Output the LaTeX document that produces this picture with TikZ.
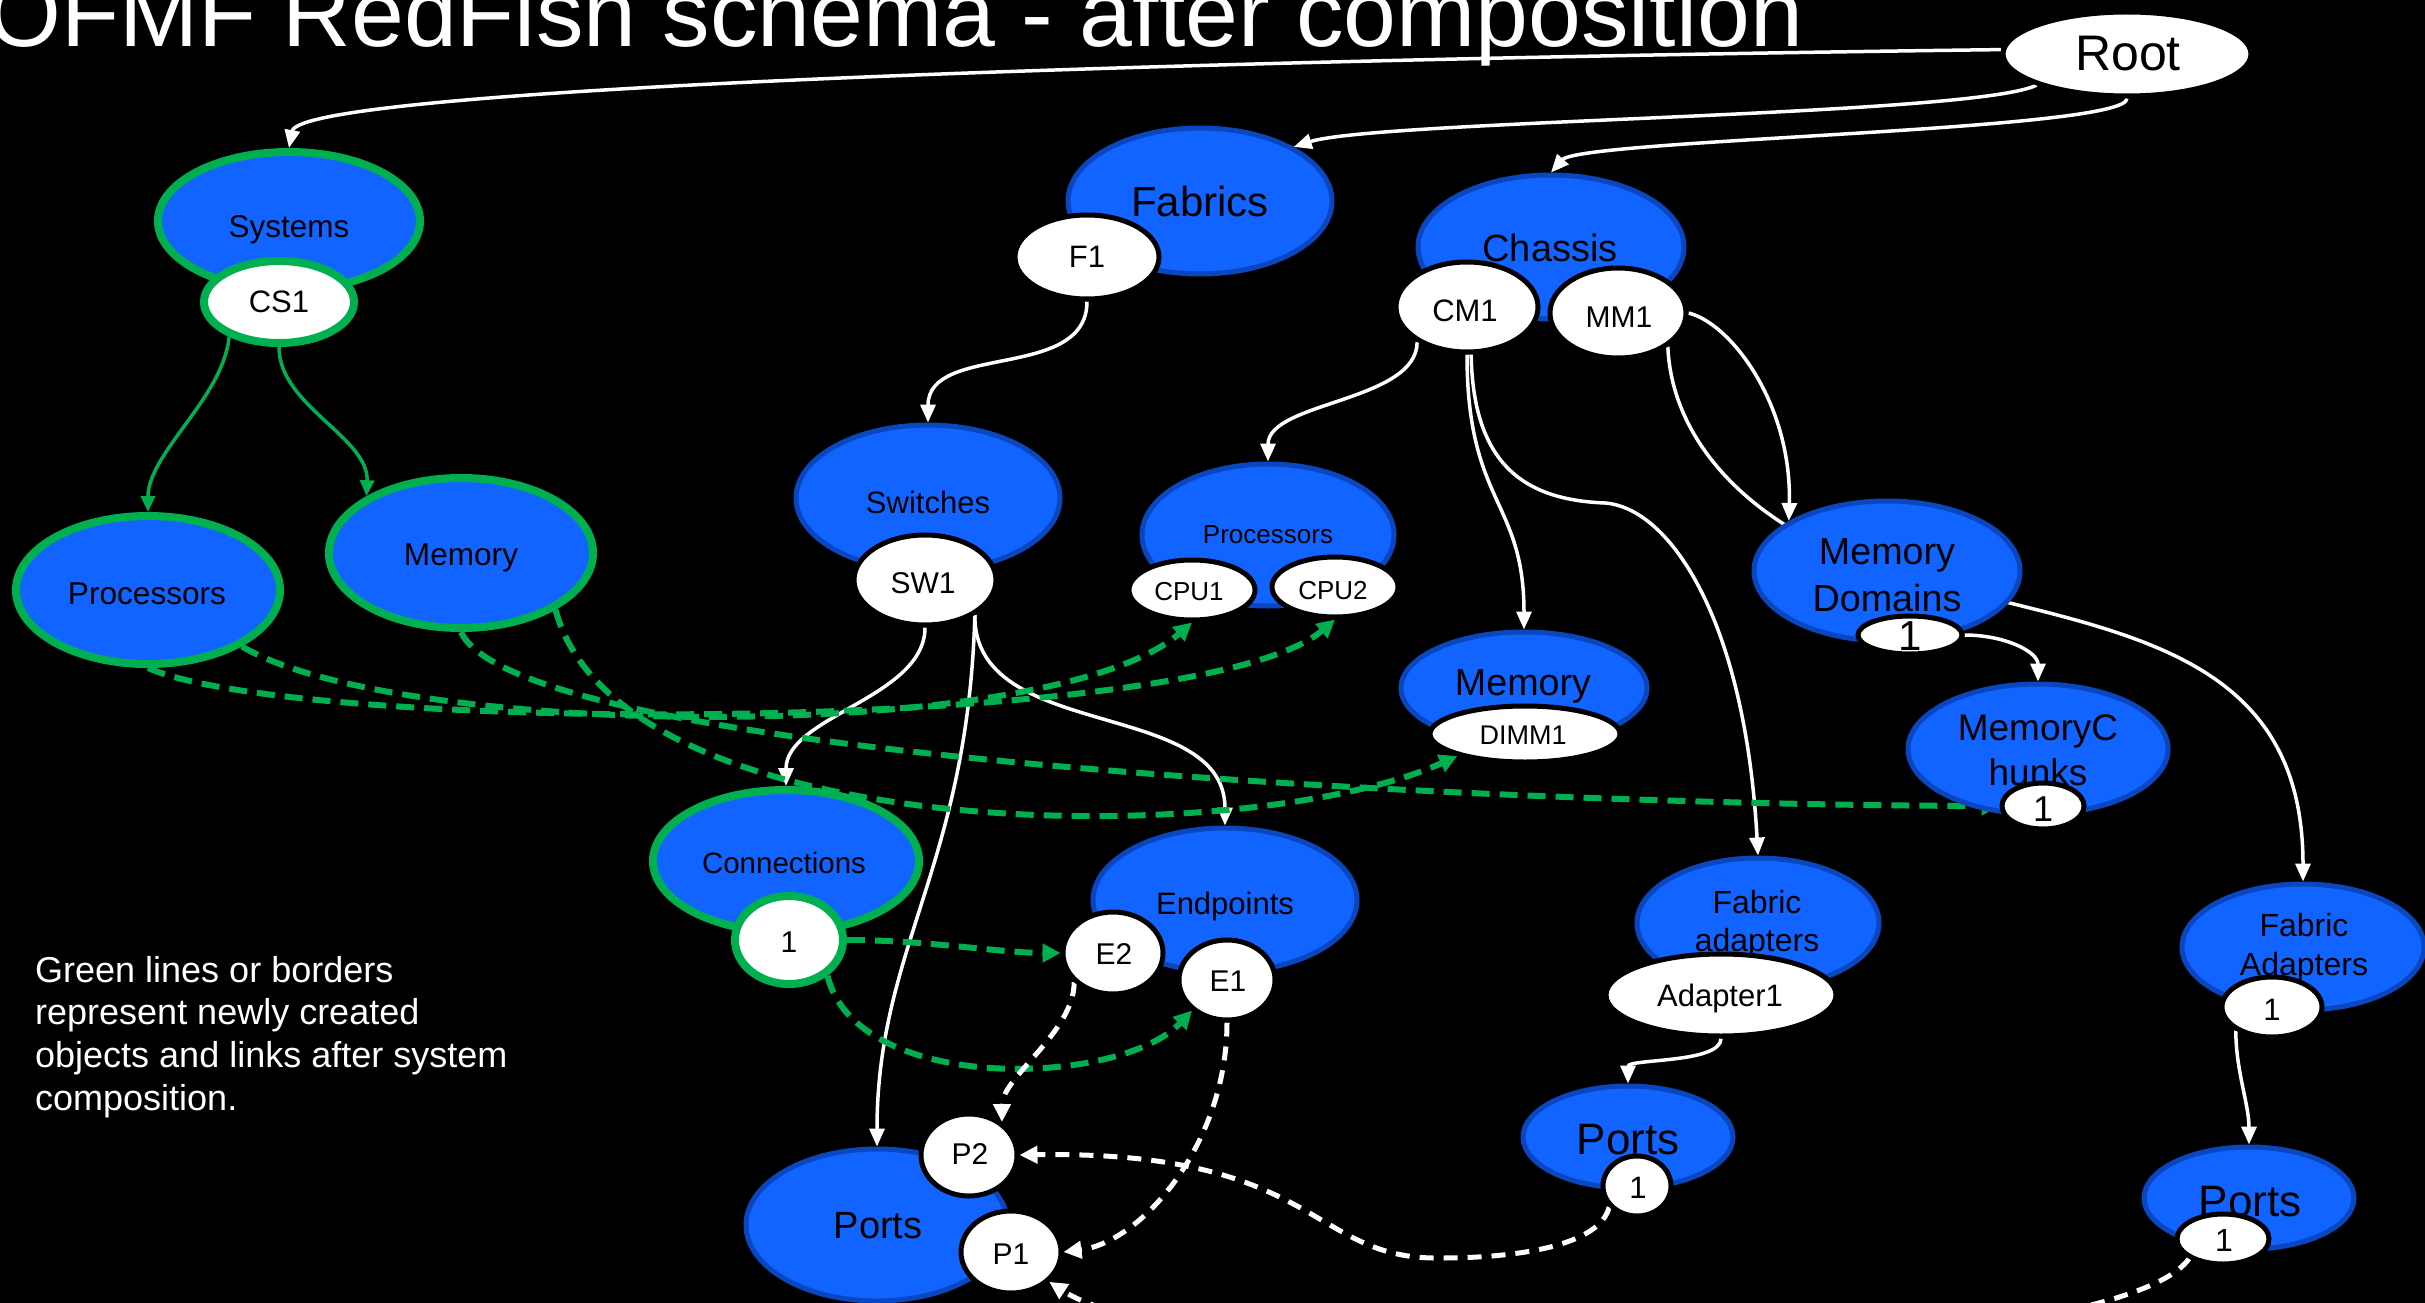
\documentclass[tikz,border=0pt]{standalone}
\usepackage{fontspec}
\setmainfont{Liberation Sans}
\usetikzlibrary{shapes.geometric, arrows.meta}
\definecolor{bfill}{RGB}{17,100,255}
\definecolor{bdr}{RGB}{10,70,190}
\definecolor{grn}{RGB}{0,176,80}
\pgfdeclarelayer{bg}
\pgfdeclarelayer{edges}
\pgfsetlayers{bg,edges,main}
\begin{document}
\begin{tikzpicture}[x=1pt, y=-1pt,
  bnode/.style={ellipse, draw=bdr, fill=bfill, line width=5pt, inner sep=0pt},
  gnode/.style={ellipse, draw=grn, fill=bfill, line width=8pt, inner sep=0pt},
  wnode/.style={ellipse, draw=black, fill=white, line width=5pt, inner sep=0pt},
  gwnode/.style={ellipse, draw=grn, fill=white, line width=8pt, inner sep=0pt},
  sz/.style 2 args={minimum width=#1pt, minimum height=#2pt},
  fs/.style={font={\fontsize{#1}{#1}\selectfont}},
  fstwo/.style 2 args={font={\fontsize{#1}{#2}\selectfont}},
  lbl/.style={text=black, inner sep=0pt},
  wline/.style={draw=white, line width=3.5pt, -{Triangle[length=18pt,width=15pt]}},
  wdash/.style={draw=white, line width=5pt, dash pattern=on 14pt off 10pt, -{Triangle[length=18pt,width=17pt]}},
  gline/.style={draw=grn, line width=3.5pt, -{Triangle[length=16pt,width=14pt]}},
  gdash/.style={draw=grn, line width=6pt, dash pattern=on 18pt off 10pt, -{Triangle[length=18pt,width=18pt]}}
]
\useasboundingbox (0,0) rectangle (2425,1303);
\begin{pgfonlayer}{bg}
\fill[black] (0,0) rectangle (2425,1303);
\end{pgfonlayer}

% ---------- title and legend ----------
\node[anchor=base west, text=white, inner sep=0pt, fs=95] (title) at (-13,47) {OFMF RedFish schema - after composition};
\node[anchor=north west, text=white, align=left, inner sep=0pt, fstwo={36}{42.7}] (legend) at (35,956)
  {Green lines or borders\\represent newly created\\objects and links after system\\composition.};

% ---------- collection nodes ----------
\node[wnode, sz={248}{84}] (root) at (2127,54) {};
\node[gnode, sz={262}{138}] (systems) at (289,221) {};
\node[bnode, sz={264}{146}] (fabrics) at (1200,201) {};
\node[bnode, sz={266}{144}] (chassis) at (1551,247) {};
\node[bnode, sz={264}{146}] (switches) at (928,498) {};
\node[gnode, sz={264}{148}] (procl) at (148,590) {};
\node[gnode, sz={264}{150}] (meml) at (461,553) {};
\node[bnode, sz={252}{142}] (procm) at (1268,535) {};
\node[bnode, sz={246}{112}] (memm) at (1524,688) {};
\node[bnode, sz={266}{140}] (md) at (1887,571) {};
\node[bnode, sz={260}{130}] (mc) at (2038,749) {};
\node[gnode, sz={266}{142}] (conn) at (786,861) {};
\node[bnode, sz={264}{144}] (ep) at (1225,900) {};
\node[bnode, sz={262}{152}] (portsl) at (877,1225) {};
\node[bnode, sz={242}{130}] (fam) at (1758,923) {};
\node[bnode, sz={210}{102}] (pm) at (1628,1137) {};
\node[bnode, sz={242}{126}] (far) at (2303,947) {};
\node[bnode, sz={210}{102}] (pr) at (2249,1198) {};

\node[lbl, fs=50] at (2128,54) {Root};
\node[lbl, fs=31.5] at (289,230) {Systems};
\node[lbl, fs=42] at (1200,201) {Fabrics};
\node[lbl, fs=38] at (1550,248) {Chassis};
\node[lbl, fs=31] at (928,502) {Switches};
\node[lbl, fs=31.6] at (147,594) {Processors};
\node[lbl, fs=31.6] at (461,558) {Memory};
\node[lbl, fs=26] at (1268,535) {Processors};
\node[lbl, fs=37.7] at (1523,686) {Memory};
\node[lbl, fstwo={37.7}{47}, align=center] at (1887,575) {Memory\\Domains};
\node[lbl, fstwo={37}{45}, align=center] at (2038,750) {MemoryC\\hunks};
\node[lbl, fs=29.5] at (784,863) {Connections};
\node[lbl, fs=31] at (1225,906) {Endpoints};
\node[lbl, fs=38] at (878,1226) {Ports};
\node[lbl, fstwo={32}{38}, align=center] at (1757,924) {Fabric\\adapters};
\node[lbl, fs=44] at (1628,1140) {Ports};
\node[lbl, fstwo={32}{39}, align=center] at (2304,948) {Fabric\\Adapters};
\node[lbl, fs=44] at (2250,1202) {Ports};

% ---------- member nodes ----------
\node[gwnode, sz={150}{82}] (cs1) at (279,302) {};
\node[wnode, sz={144}{84}] (f1) at (1087,257) {};
\node[wnode, sz={142}{90}] (cm1) at (1467,307) {};
\node[wnode, sz={136}{90}] (mm1) at (1618,313) {};
\node[wnode, sz={142}{90}] (sw1) at (925,580) {};
\node[wnode, sz={126}{60}] (cpu1) at (1192,590) {};
\node[wnode, sz={126}{60}] (cpu2) at (1335,587) {};
\node[wnode, sz={190}{56}] (dimm) at (1525,734) {};
\node[wnode, sz={104}{38}] (md1) at (1910,635) {};
\node[wnode, sz={82}{46}] (mc1) at (2043,806) {};
\node[gwnode, sz={108}{88}] (conn1) at (789,940) {};
\node[wnode, sz={100}{82}] (e2) at (1113,953) {};
\node[wnode, sz={96}{80}] (e1) at (1227,980) {};
\node[wnode, sz={96}{82}] (p2) at (969,1155) {};
\node[wnode, sz={100}{82}] (p1) at (1011,1252) {};
\node[wnode, sz={230}{82}] (a1) at (1721,995) {};
\node[wnode, sz={68}{60}] (pm1) at (1637,1186) {};
\node[wnode, sz={100}{60}] (far1) at (2272,1007) {};
\node[wnode, sz={92}{50}] (pr1) at (2223,1239) {};

\node[lbl, fs=31] at (279,302) {CS1};
\node[lbl, fs=31] at (1087,257) {F1};
\node[lbl, fs=31] at (1465,311) {CM1};
\node[lbl, fs=30] at (1619,317) {MM1};
\node[lbl, fs=30] at (923,583) {SW1};
\node[lbl, fs=26] at (1189,592) {CPU1};
\node[lbl, fs=26] at (1333,591) {CPU2};
\node[lbl, fs=27] at (1523,735) {DIMM1};
\node[lbl, fs=42] at (1910,636) {1};
\node[lbl, fs=36] at (2043,809) {1};
\node[lbl, fs=30] at (789,942) {1};
\node[lbl, fs=30] at (1114,954) {E2};
\node[lbl, fs=30] at (1228,981) {E1};
\node[lbl, fs=30] at (970,1154) {P2};
\node[lbl, fs=30] at (1011,1254) {P1};
\node[lbl, fs=31] at (1720,998) {Adapter1};
\node[lbl, fs=31] at (1638,1188) {1};
\node[lbl, fs=31] at (2272,1010) {1};
\node[lbl, fs=32] at (2224,1240) {1};

\coordinate (w3) at (1440,1258);
\coordinate (w7) at (1605,503);

% ---------- connectors ----------
\begin{pgfonlayer}{edges}
\draw[wline] (root.178) .. controls (1103,61) and (300,90) .. (systems.north);
\draw[wline] (root.199) .. controls (1975,116) and (1378,120) .. (fabrics.30);
\draw[wline] (root.south) .. controls (2127,131) and (1581,139) .. (chassis.north);
\draw[wline] (f1.south) .. controls +(0,80) and +(0,-80) .. (switches.north);
\draw[wline] (cm1.215) .. controls +(0,60) and +(0,-60) .. (procm.north);
\draw[wline] (cm1.south) .. controls +(0,150) and +(0,-130) .. (memm.north);
\draw[wline] (cm1.-85) .. controls (1473,470) and (1530,500) .. (w7)
             .. controls (1670,508) and (1745,620) .. (fam.north);
\draw[wline] (mm1.east) .. controls (1730,323) and (1792,403) .. (md.153);
\draw[wline] (mm1.-34) .. controls (1672,446) and (1757,531) .. (md.center)
             .. controls (2087,631) and (2303,633) .. (far.north);
\draw[wline] (md1.east) .. controls +(40,0) and +(0,-30) .. (mc.north);
\draw[wline] (sw1.south) .. controls +(0,70) and +(0,-70) .. (conn.north);
\draw[wline] (sw1.-35) .. controls (968,865) and (877,948) .. (portsl.north);
\draw[wline] (sw1.-35) .. controls (973,743) and (1225,697) .. (ep.north);
\draw[wline] (a1.south) .. controls +(0,25) and +(0,-25) .. (pm.north);
\draw[wline] (far1.213) .. controls +(0,40) and +(0,-40) .. (pr.north);

\draw[gline] (cs1.215) .. controls (223,398) and (148,453) .. (procl.north);
\draw[gline] (cs1.south) .. controls (279,406) and (369,437) .. (meml.149);

\draw[gdash] (procl.-31) .. controls (400,740) and (1050,745) .. (cpu1.south);
\draw[gdash] (procl.south) .. controls (300,735) and (1200,735) .. (cpu2.south);
\draw[gdash] (meml.south) .. controls (520,760) and (1500,805) .. (mc1.west);
\draw[gdash] (meml.-31) .. controls (620,850) and (1250,850) .. (dimm.198);
\draw[gdash] (conn1.east) .. controls +(80,0) and +(-60,0) .. (e2.west);
\draw[gdash] (conn1.-43) .. controls (857,1095) and (1120,1087) .. (e1.221);

\draw[wdash] (e2.217) .. controls +(0,50) and +(0,-45) .. (p2.45);
\draw[wdash] (e1.south) .. controls (1227,1142) and (1143,1242) .. (p1.east);
\draw[wdash] (pm1.217) .. controls (1600,1245) and (1520,1258) .. (w3)
             .. controls (1310,1260) and (1320,1150) .. (p2.east);
\draw[wdash] (pr1.210) .. controls (2110,1370) and (1200,1380) .. (p1.-38);
\end{pgfonlayer}
\end{tikzpicture}
\end{document}
